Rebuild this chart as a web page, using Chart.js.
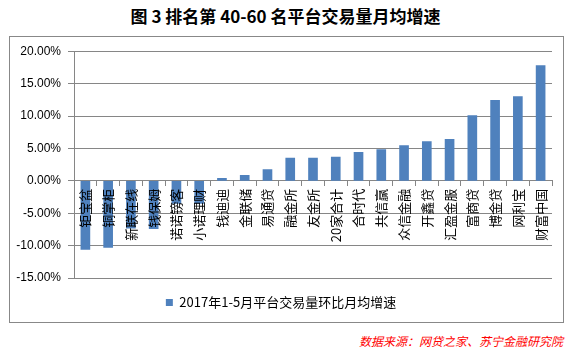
<!DOCTYPE html>
<html>
<head>
<meta charset="utf-8">
<script src="https://cdn.jsdelivr.net/npm/chart.js@4.4.1/dist/chart.umd.min.js"></script>
<style>
  body { margin: 0; width: 571px; height: 353px; background: #fff; position: relative; overflow: hidden; }
  #title { position: absolute; left: 0; top: 3px; width: 571px; text-align: center;
    font: bold 17px "Noto Sans CJK SC", sans-serif; color: #000; }
  #box { position: absolute; left: 9px; top: 36px; width: 555px; height: 287px;
    box-sizing: border-box; border: 1px solid #888; }
  #source { position: absolute; right: 8px; top: 332px;
    font: italic 12px "Noto Sans CJK SC", sans-serif; color: #ff0000; }
</style>
</head>
<body>
<div id="title">图 3 排名第 40-60 名平台交易量月均增速</div>
<div id="box"><canvas id="c" width="553" height="285"></canvas></div>
<div id="source">数据来源：网贷之家、苏宁金融研究院</div>
<script>
// platforms, left to right
const platforms = ['钜宝盆', '铜掌柜', '新联在线', '钱保姆', '诺诺镑客', '小诺理财', '钱迪迪',
  '金联储', '易通贷', '融金所', '友金所', '20家合计', '合时代', '共信赢', '众信金融', '开鑫贷',
  '汇盈金服', '富商贷', '博金贷', '网利宝', '财富中国'];
// monthly average growth, %
const growth = [-10.6, -10.3, -7.3, -7.4, -3.5, -3.5, 0.4, 0.85, 1.75, 3.5, 3.5, 3.65, 4.4, 4.8,
  5.45, 6.05, 6.4, 10.05, 12.4, 13.0, 17.8];
const seriesName = '2017年1-5月平台交易量环比月均增速';
const yMin = -15, yMax = 20, yStep = 5;

const gridGray = '#868686';

new Chart(document.getElementById('c'), {
  type: 'bar',
  data: {
    labels: platforms,
    datasets: [{ label: seriesName, data: growth, backgroundColor: '#4f81bd',
      barThickness: 9 }]
  },
  options: {
    responsive: false,
    animation: false,
    layout: { padding: { top: 12, right: 11, bottom: 3, left: 0 } },
    plugins: {
      tooltip: { enabled: false },
      legend: {
        position: 'bottom',
        labels: { boxWidth: 7, boxHeight: 7, color: '#000', padding: 18,
          font: { size: 13, family: '"Noto Sans CJK SC", sans-serif' } }
      }
    },
    scales: {
      x: {
        position: { y: 0 },
        grid: { drawOnChartArea: false, drawTicks: true, tickLength: 5, offset: true, color: gridGray },
        border: { color: gridGray },
        // z: 1 so the names sit on top of the negative bars
        ticks: { z: 1, autoSkip: false, minRotation: 90, maxRotation: 90, padding: 3, color: '#000',
          font: { size: 13, family: '"Noto Sans CJK SC", sans-serif' } }
      },
      y: {
        min: yMin, max: yMax,
        grid: { color: gridGray, tickLength: 6 },
        border: { color: gridGray },
        ticks: { stepSize: yStep, padding: 7, color: '#000',
          font: { size: 12, family: '"Liberation Sans", Arial, sans-serif' },
          callback: v => v.toFixed(2) + '%' },
        afterFit: s => { s.width = 64; }
      }
    }
  }
});
</script>
</body>
</html>
